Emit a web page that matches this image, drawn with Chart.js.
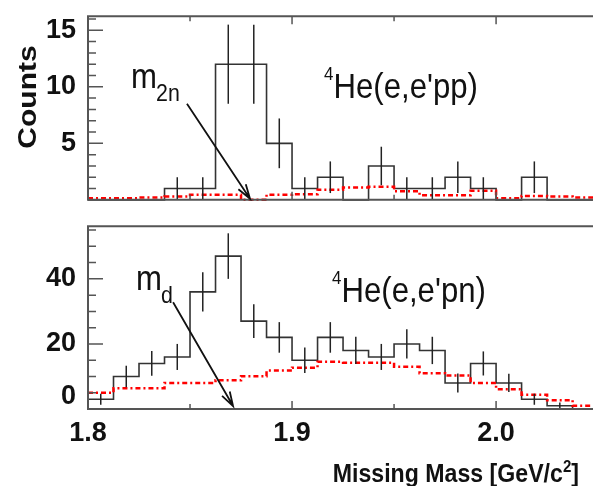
<!DOCTYPE html>
<html>
<head>
<meta charset="utf-8">
<script src="https://cdn.jsdelivr.net/npm/chart.js@4.4.0/dist/chart.umd.min.js"></script>
<style>
body { margin: 0; background: #fff; }
#wrap { position: relative; width: 593px; height: 486px; overflow: hidden; }
canvas { position: absolute; left: 0; }
#ppChart { top: 0; }
#pnChart { top: 210px; }
</style>
</head>
<body>
<div id="wrap">
  <canvas id="ppChart" width="593" height="216"></canvas>
  <canvas id="pnChart" width="593" height="276"></canvas>
</div>
<script>
// missing mass bins (GeV/c^2)
var massEdges = [1.8, 1.8125, 1.825, 1.8375, 1.85, 1.8625, 1.875, 1.8875, 1.9, 1.9125, 1.925,
                 1.9375, 1.95, 1.9625, 1.975, 1.9875, 2.0, 2.0125, 2.025, 2.0375, 2.05];
var massCenters = [1.80625, 1.81875, 1.83125, 1.84375, 1.85625, 1.86875, 1.88125, 1.89375, 1.90625, 1.91875,
                   1.93125, 1.94375, 1.95625, 1.96875, 1.98125, 1.99375, 2.00625, 2.01875, 2.03125, 2.04375];

// 4He(e,e'pp)
var ppCounts = [0, 0, 0, 1, 1, 12, 12, 5, 1, 2, 0, 3, 1, 1, 2, 1, 0, 2, 0, 0];
var ppErrors = [0, 0, 0, 1, 1, 3.5, 3.5, 2.2, 1, 1.4, 0, 1.7, 1, 1, 1.4, 1, 0, 1.4, 0, 0];
var ppBackground = [0.15, 0.15, 0.2, 0.3, 0.45, 0.45, 0, 0.45, 0.5, 0.9, 1.1, 1.15, 0.75, 0.4, 0.4, 0.8, 0.15, 0.35, 0.3, 0.2];

// 4He(e,e'pn)
var pnCounts = [3, 10, 14, 16, 36, 47, 27, 22, 15, 22, 18, 16, 20, 18, 8, 14, 8, 3, 1, 0];
var pnErrors = [1.7, 3.3, 3.8, 4, 6, 7, 5.2, 4.7, 3.9, 4.7, 4.2, 4, 4.5, 4.2, 2.9, 3.7, 2.8, 1.7, 1, 0];
var pnBackground = [5, 6.4, 6.4, 8, 8, 8.8, 10.1, 11.8, 12.7, 14.5, 14.2, 14.2, 13, 11, 10.3, 8, 6.1, 4.4, 2.7, 1];

// axis ticks
var xMajorTicks = [1.8, 1.9, 2.0];
var xMinorTicks = [1.85, 1.95, 2.05];
var ppMajorTicks = [5, 10, 15];
var ppMinorTicks = [1, 2, 3, 4, 6, 7, 8, 9, 11, 12, 13, 14, 16];
var pnMajorTicks = [0, 20, 40];
var pnMinorTicks = [5, 10, 15, 25, 30, 35, 45, 50, 55];

// threshold masses marked by the arrows
var m2n = 1.8794;
var md = 1.8711;

var FONT = "'Liberation Sans', Arial, Helvetica, sans-serif";
var SQUEEZE = 0.89; // the original lettering is a bit narrow

function histPoints(values) {
  return massEdges.map(function (e, i) {
    return { x: e, y: values[Math.min(i, values.length - 1)] };
  });
}

function drawText(ctx, str, x, y, font) {
  ctx.save();
  ctx.translate(x, y);
  ctx.scale(SQUEEZE, 1);
  ctx.font = font;
  ctx.textAlign = 'left';
  ctx.textBaseline = 'alphabetic';
  ctx.fillText(str, 0, 0);
  var w = ctx.measureText(str).width * SQUEEZE;
  ctx.restore();
  return w;
}

function drawArrow(ctx, x0, y0, x1, y1) {
  var ang = Math.atan2(y1 - y0, x1 - x0);
  var head = 15;
  ctx.beginPath();
  ctx.moveTo(x0, y0);
  ctx.lineTo(x1, y1);
  ctx.moveTo(x1 - head * Math.cos(ang - 0.3), y1 - head * Math.sin(ang - 0.3));
  ctx.lineTo(x1, y1);
  ctx.lineTo(x1 - head * Math.cos(ang + 0.3), y1 - head * Math.sin(ang + 0.3));
  ctx.stroke();
}

var panelPlugin = {
  id: 'panel',
  afterDatasetsDraw: function (chart, args, opts) {
    var ctx = chart.ctx;
    var a = chart.chartArea;
    var xs = chart.scales.x, ys = chart.scales.y;
    ctx.save();

    // error bars
    ctx.strokeStyle = '#222';
    ctx.lineWidth = 1.5;
    opts.counts.forEach(function (c, i) {
      var e = opts.errors[i];
      if (!e) return;
      var px = xs.getPixelForValue(massCenters[i]);
      ctx.beginPath();
      ctx.moveTo(px, ys.getPixelForValue(c - e));
      ctx.lineTo(px, ys.getPixelForValue(c + e));
      ctx.stroke();
    });

    // frame
    ctx.strokeStyle = '#555';
    ctx.lineWidth = 2;
    ctx.beginPath();
    ctx.moveTo(a.right, a.top);
    ctx.lineTo(a.left, a.top);
    ctx.lineTo(a.left, a.bottom);
    ctx.lineTo(a.right, a.bottom);
    ctx.stroke();

    // ticks, all pointing inwards
    ctx.lineWidth = 1.5;
    ctx.beginPath();
    opts.yMajor.forEach(function (v) {
      var py = ys.getPixelForValue(v);
      ctx.moveTo(a.left, py); ctx.lineTo(a.left + 15, py);
    });
    opts.yMinor.forEach(function (v) {
      var py = ys.getPixelForValue(v);
      ctx.moveTo(a.left, py); ctx.lineTo(a.left + 8, py);
    });
    xMajorTicks.concat(xMinorTicks).forEach(function (v, i) {
      var px = xs.getPixelForValue(v);
      var len = i < xMajorTicks.length ? 8 : 5;
      if (opts.topTicks) { ctx.moveTo(px, a.top); ctx.lineTo(px, a.top + len); }
      ctx.moveTo(px, a.bottom); ctx.lineTo(px, a.bottom - len);
    });
    ctx.stroke();

    // arrow to the threshold mass
    ctx.strokeStyle = '#111';
    ctx.lineWidth = 1.8;
    drawArrow(ctx,
      xs.getPixelForValue(opts.arrow[0]), ys.getPixelForValue(opts.arrow[1]),
      xs.getPixelForValue(opts.arrow[2]), ys.getPixelForValue(opts.arrow[3]));

    // labels
    ctx.fillStyle = '#111';
    var mx = xs.getPixelForValue(opts.mLabel[0]), my = ys.getPixelForValue(opts.mLabel[1]);
    var w = drawText(ctx, 'm', mx, my, '35px ' + FONT);
    drawText(ctx, opts.mSub, mx + w - 1, my + 13, '24px ' + FONT);

    var rx = xs.getPixelForValue(opts.reaction[0]), ry = ys.getPixelForValue(opts.reaction[1]);
    w = drawText(ctx, '4', rx, ry - 18, '19px ' + FONT);
    drawText(ctx, opts.reactionText, rx + w, ry, '35px ' + FONT);

    if (opts.yTitle) {
      ctx.save();
      ctx.translate(29, 97);
      ctx.scale(SQUEEZE, 1);
      ctx.rotate(-Math.PI / 2);
      ctx.font = 'bold 30px ' + FONT;
      ctx.textAlign = 'center';
      ctx.textBaseline = 'middle';
      ctx.fillText('Counts', 0, 0);
      ctx.restore();
    }

    if (opts.xTitle) {
      var f = 'bold 26px ' + FONT, fs = 'bold 17px ' + FONT;
      ctx.font = f;
      var w1 = ctx.measureText('Missing Mass [GeV/c').width * SQUEEZE;
      var w3 = ctx.measureText(']').width * SQUEEZE;
      ctx.font = fs;
      var w2 = ctx.measureText('2').width * SQUEEZE;
      var x0 = 579 - w1 - w2 - w3;
      var base = chart.height - 4;
      drawText(ctx, 'Missing Mass [GeV/c', x0, base, f);
      drawText(ctx, '2', x0 + w1, base - 10, fs);
      drawText(ctx, ']', x0 + w1 + w2, base, f);
    }
    ctx.restore();
  }
};

// chart.js 'before' keeps the previous bin's height until the next edge
function histDataset(values) {
  return {
    data: histPoints(values), stepped: 'before', borderColor: '#333', borderWidth: 1.6,
    pointRadius: 0, fill: false, clip: 3
  };
}
function bgDataset(values) {
  return {
    data: histPoints(values), stepped: 'before', borderColor: 'rgb(255,0,0)', borderWidth: 2.5,
    borderDash: [5, 3, 2, 3], pointRadius: 0, fill: false, clip: 3
  };
}

var tickFont = { family: FONT, size: 27, weight: 'bold', lineHeight: 0.9 };

new Chart(document.getElementById('ppChart'), {
  type: 'line',
  data: { datasets: [bgDataset(ppBackground), histDataset(ppCounts)] },
  options: {
    responsive: false, animation: false, devicePixelRatio: 1,
    layout: { padding: { top: 10, bottom: 10, left: 0, right: 0 } },
    plugins: {
      legend: { display: false }, tooltip: { enabled: false },
      panel: {
        counts: ppCounts, errors: ppErrors, yMajor: ppMajorTicks, yMinor: ppMinorTicks, topTicks: true,
        arrow: [1.8485, 8.5, m2n, 0.1], mLabel: [1.8211, 9.86], mSub: '2n',
        reaction: [1.9157, 9.0], reactionText: "He(e,e'pp)", yTitle: true
      }
    },
    scales: {
      x: { type: 'linear', min: 1.8, max: 2.0475, display: false },
      y: {
        min: 0, max: 16.25,
        ticks: { stepSize: 5, includeBounds: false, padding: 4, color: '#111', font: tickFont,
                 callback: function (v) { return v === 0 ? '' : String(v); } },
        grid: { display: false }, border: { display: false },
        afterFit: function (s) { s.width = 88; }
      }
    }
  },
  plugins: [panelPlugin]
});

new Chart(document.getElementById('pnChart'), {
  type: 'line',
  data: { datasets: [bgDataset(pnBackground), histDataset(pnCounts)] },
  options: {
    responsive: false, animation: false, devicePixelRatio: 1,
    layout: { padding: { top: 7, bottom: 0, left: 0, right: 0 } },
    plugins: {
      legend: { display: false }, tooltip: { enabled: false },
      panel: {
        counts: pnCounts, errors: pnErrors, yMajor: pnMajorTicks, yMinor: pnMinorTicks, topTicks: false,
        arrow: [1.8417, 32.8, md, 0.9], mLabel: [1.8235, 36.6], mSub: 'd',
        reaction: [1.9196, 32.8], reactionText: "He(e,e'pn)", xTitle: true
      }
    },
    scales: {
      x: {
        type: 'linear', min: 1.8, max: 2.0475,
        ticks: { stepSize: 0.1, includeBounds: false, autoSkip: false, maxRotation: 0, padding: 4,
                 color: '#111', font: tickFont,
                 callback: function (v) { return v.toFixed(1); } },
        grid: { display: false }, border: { display: false },
        afterFit: function (s) { s.height = 77; }
      },
      y: {
        min: 0, max: 56.2,
        ticks: { stepSize: 20, includeBounds: false, padding: 4, color: '#111', font: tickFont,
                 callback: function (v) { return v === 0 ? ['0', ''] : String(v); } },
        grid: { display: false }, border: { display: false },
        afterFit: function (s) { s.width = 88; }
      }
    }
  },
  plugins: [panelPlugin]
});
</script>
</body>
</html>
